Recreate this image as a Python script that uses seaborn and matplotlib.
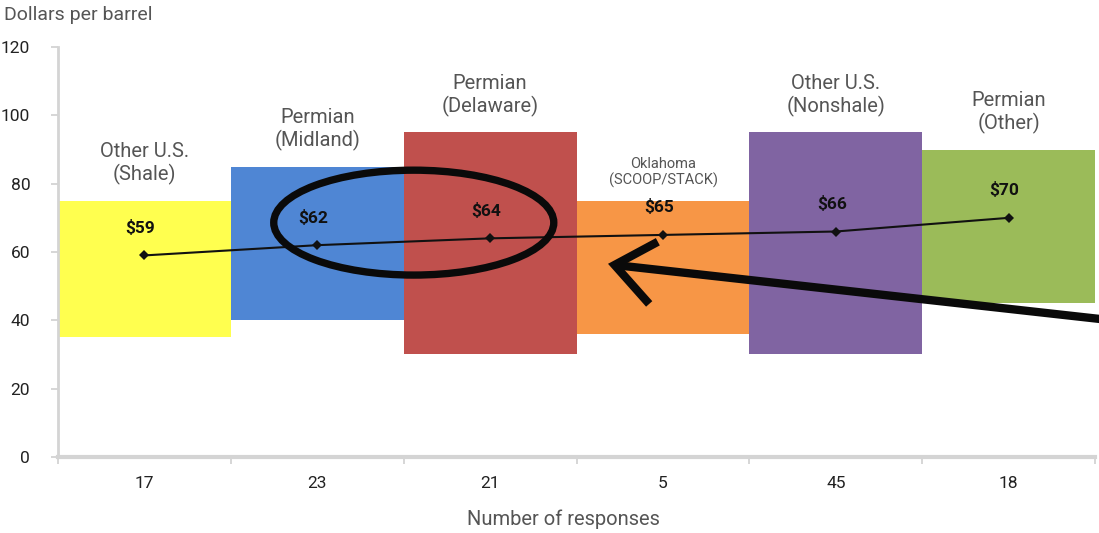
import matplotlib
matplotlib.use("Agg")
import matplotlib.pyplot as plt
from matplotlib.patches import Ellipse
import seaborn as sns
import numpy as np
import pandas as pd

# ---- data ----
regions = ["Other U.S.\n(Shale)", "Permian\n(Midland)", "Permian\n(Delaware)",
           "Oklahoma\n(SCOOP/STACK)", "Other U.S.\n(Nonshale)", "Permian\n(Other)"]
responses = ["17", "23", "21", "5", "45", "18"]
low = [35, 40, 30, 36, 30, 45]
high = [75, 85, 95, 75, 95, 90]
average = [59, 62, 64, 65, 66, 70]
value_labels = ["$59", "$62", "$64", "$65", "$66", "$70"]
colors = ["#FFFF4F", "#4F86D4", "#C0504D", "#F79646", "#8064A2", "#9BBB59"]

sns.set_theme(style="white")
plt.rcParams["font.family"] = ["Roboto", "DejaVu Sans"]

fig = plt.figure(figsize=(10.99, 5.33), dpi=100)
ax = fig.add_axes([0.0528, 0.1426, 0.9437, 0.7692])

pos = np.arange(len(regions))
df = pd.DataFrame({"pos": pos, "avg": average})

ax.bar(pos, np.array(high) - np.array(low), bottom=low, width=1.0,
       color=colors, linewidth=0, zorder=1)
sns.lineplot(data=df, x="pos", y="avg", ax=ax, color="#111111", linewidth=1.5,
             marker="D", markersize=5, markeredgewidth=0, zorder=3)

gray_text = "#555555"
for i in range(len(regions)):
    small = i == 3
    ax.annotate(regions[i], (pos[i], high[i]), xytext=(0, 9 if small else 11),
                textcoords="offset points", ha="center", va="bottom",
                fontsize=10.5 if small else 14.5, color=gray_text,
                linespacing=1.15 if small else 1.2)
    ax.annotate(value_labels[i], (pos[i], average[i]), xytext=(-3, 14),
                textcoords="offset points", ha="center", va="bottom",
                fontsize=12.5, fontweight="bold", color="#111111")

ax.set_xlim(-0.5, 5.5)
ax.set_ylim(0, 120)
ax.set_yticks(range(0, 121, 20))
ax.set_xticks(pos)
ax.set_xticklabels(responses)
ax.set_xticks(np.arange(-0.5, 5.6, 1.0), minor=True)
ax.tick_params(axis="x", which="major", length=0, pad=14, labelsize=12.5, labelcolor="#222222")
ax.tick_params(axis="x", which="minor", length=5, width=1.2, color="#cfcfcf", direction="out", bottom=True)
ax.tick_params(axis="y", which="major", length=5, width=1.2, color="#cfcfcf", pad=15,
               labelsize=12.5, labelcolor="#222222", left=True)

for s in ["top", "right"]:
    ax.spines[s].set_visible(False)
ax.spines["left"].set_color("#d4d4d4")
ax.spines["left"].set_linewidth(2)
ax.spines["bottom"].set_color("#d4d4d4")
ax.spines["bottom"].set_linewidth(3)

ax.set_xlabel("Number of responses", fontsize=14.5, color=gray_text)
ax.xaxis.set_label_coords(0.487, -0.128)
ax.set_ylabel("")
fig.text(0.004, 0.972, "Dollars per barrel", fontsize=14, color=gray_text, ha="left", va="center")

# hand-drawn emphasis marks
ax.add_patch(Ellipse((1.558, 68.6), 1.62, 30.7, fill=False, edgecolor="#0a0a0a",
                     linewidth=5.3, zorder=5, clip_on=False))
ax.plot([5.74, 2.72], [39.2, 56.2], color="#0a0a0a", linewidth=6,
        solid_capstyle="butt", zorder=5, clip_on=False)
ax.plot([2.97, 2.72, 2.92], [63.0, 56.2, 44.8], color="#0a0a0a", linewidth=6,
        solid_capstyle="butt", solid_joinstyle="miter", zorder=5, clip_on=False)

fig.savefig("out.png", dpi=100, facecolor="white")
